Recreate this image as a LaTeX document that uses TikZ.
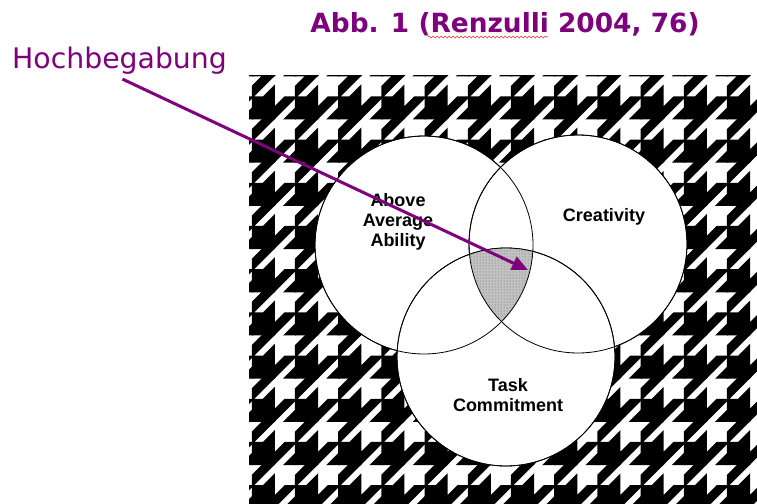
\documentclass[tikz,border=0pt]{standalone}
\usepackage{fontspec}
\setmainfont{DejaVu Sans}
\newfontfamily\labfont{Liberation Sans}
\usetikzlibrary{arrows.meta,decorations.pathmorphing,patterns}
\definecolor{purp}{RGB}{125,0,125}
\begin{document}
\begin{tikzpicture}[x=1pt,y=-1pt,
  ring/.style={circle, draw=black, line width=0.8pt, fill=white, minimum size=218pt, inner sep=0pt},
  lab/.style={font=\labfont\bfseries\fontsize{18}{20}\selectfont, align=center, inner sep=0pt},
  tooth/.style={fill=black, draw=black, line width=1.5pt, line join=miter},
  pointer/.style={draw=purp, line width=3pt, -{Triangle[length=16pt,width=14pt]}},
]
\useasboundingbox[fill=white] (0,0) rectangle (757,503);
% houndstooth background
\begin{scope}
\clip (249,75) rectangle (757,503);
\begin{scope}[shift={(252.5,507.5)}, x=10.8pt, y=10.8pt]
\foreach \i in {-1,...,12}{
 \foreach \j in {-1,...,10}{
  \filldraw[tooth, shift={(4*\i,4*\j)}]
    (0,0) rectangle (2,2)
    (2,0) -- (2,1) -- (3,2) -- (4,2) -- cycle
    (3,0) -- (4,0) -- (4,1) -- cycle
    (0,2) -- (0,3) -- (1,4) -- (2,4) -- cycle
    (1,2) -- (2,2) -- (2,3) -- cycle;
 }}
\end{scope}
\end{scope}
% circles
\node[ring] (A) at (424,245) {};
\node[ring] (C) at (578,244) {};
\node[ring] (T) at (506,357) {};
\begin{scope}
\clip (A.center) circle (109pt);
\clip (C.center) circle (109pt);
\fill[black!24] (T.center) circle (109pt);
\fill[pattern=dots, pattern color=black!60] (T.center) circle (109pt);
\end{scope}
\draw[line width=0.8pt] (A.center) circle (109pt);
\draw[line width=0.8pt] (C.center) circle (109pt);
\draw[line width=0.8pt] (T.center) circle (109pt);
% labels
\node[lab] (la) at (398,222) {Above\\Average\\Ability};
\node[lab] (lc) at (604,217) {Creativity};
\node[lab] (lt) at (508,395) {Task\\Commitment};
% title
\node[anchor=base, text=purp, font=\bfseries\fontsize{26.4}{30}\selectfont, inner sep=0pt] (title) at (505,33) {Abb. 1 (Renzulli 2004, 76)};
\draw[red!80, line width=0.6pt, decorate, decoration={snake, amplitude=1pt, segment length=4pt}] (428,37) -- (548,37);
% Hochbegabung
\node[anchor=base west, text=purp, font=\fontsize{28.3}{30}\selectfont, inner sep=0pt] (hoch) at (12,68) {Hochbegabung};
\coordinate (tip) at (528,270);
\draw[pointer] ([xshift=3pt,yshift=-5pt]hoch.south) -- (tip);
\end{tikzpicture}
\end{document}
